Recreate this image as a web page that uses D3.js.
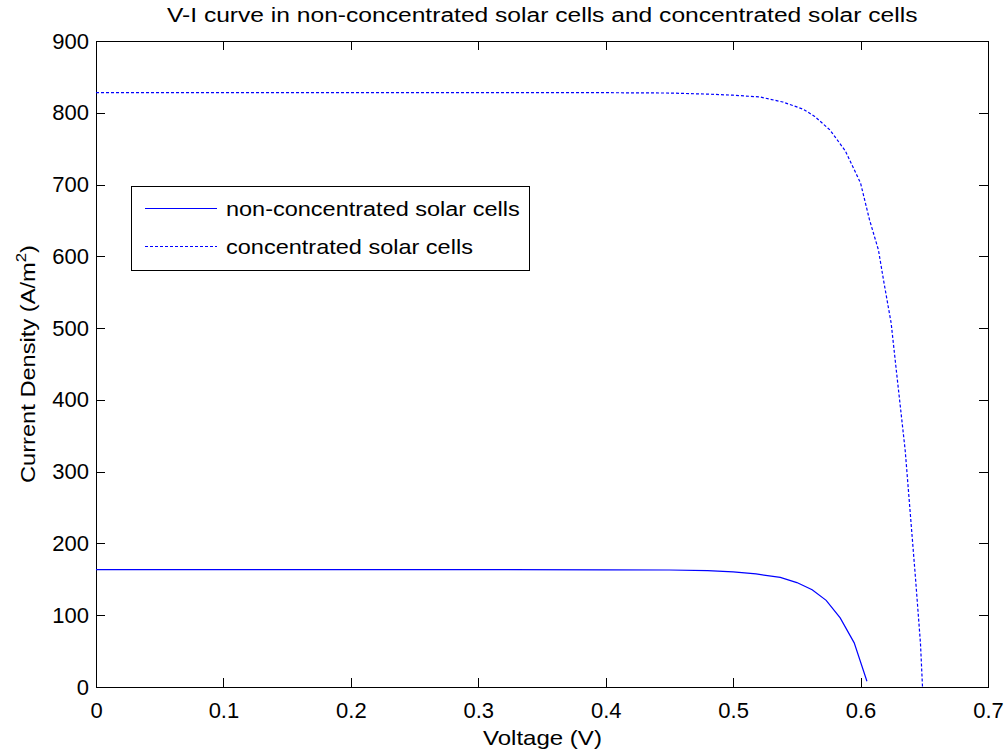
<!DOCTYPE html>
<html>
<head>
<meta charset="utf-8">
<script src="https://cdn.jsdelivr.net/npm/d3@7"></script>
<style>
  body { margin: 0; background: #fff; }
  text { font-family: "Liberation Sans", Arial, sans-serif; fill: #000; }
</style>
</head>
<body>
<svg id="chart" width="1008" height="756"></svg>
<script>
const width = 1008;
const height = 756;
const margin = { top: 41, right: 20, bottom: 69, left: 96 };

// non-concentrated solar cells
const voltageNC = [0, 0.1, 0.2, 0.3, 0.4, 0.45, 0.48, 0.5, 0.518, 0.537, 0.55, 0.562, 0.573, 0.584, 0.595, 0.605];
const currentNC = [163.5, 163.5, 163.5, 163.5, 163.3, 163, 162, 160.5, 157.5, 152.7, 145.5, 135.6, 120.7, 96.3, 61.5, 8];

// concentrated solar cells
const voltageC = [0, 0.1, 0.2, 0.3, 0.4, 0.45, 0.48, 0.5, 0.521, 0.539, 0.555, 0.564, 0.576, 0.588, 0.6, 0.607, 0.614, 0.618, 0.624, 0.628, 0.635, 0.639, 0.643, 0.647, 0.6486];
const currentC = [828, 828, 828, 828, 828, 827.5, 826, 824.5, 822, 815, 805, 795, 776, 747, 702, 651, 609, 567, 507, 442, 330, 242, 154, 61, 0];

const xTicks = [0, 0.1, 0.2, 0.3, 0.4, 0.5, 0.6, 0.7];
const yTicks = [0, 100, 200, 300, 400, 500, 600, 700, 800, 900];
const seriesNames = ["non-concentrated solar cells", "concentrated solar cells"];

const svg = d3.select("#chart");

const x = d3.scaleLinear()
    .domain([0, 0.7])
    .range([margin.left, width - margin.right]);
const y = d3.scaleLinear()
    .domain([0, 900])
    .range([height - margin.bottom, margin.top]);

const x0 = margin.left, x1 = width - margin.right;
const y0 = height - margin.bottom, y1 = margin.top;

// the reference font is a bit wider than Liberation Sans, stretch text horizontally
function stretch(sel, target, base) {
    const w = sel.node().getBBox().width;
    const k = target / w;
    sel.attr("transform", `${base || ""} scale(${k},1)`);
}

// axes with inward ticks
svg.append("g")
    .attr("transform", `translate(0,${y0})`)
    .call(d3.axisBottom(x).tickValues(xTicks).tickSizeInner(-9).tickSizeOuter(0).tickPadding(15).tickFormat(d3.format("")))
    .call((g) => g.select(".domain").remove())
    .call((g) => g.selectAll("text").attr("font-size", 22).attr("font-family", "Liberation Sans, Arial"));

svg.append("g")
    .attr("transform", `translate(0,${y1})`)
    .call(d3.axisTop(x).tickValues(xTicks).tickSizeInner(-9).tickSizeOuter(0).tickFormat(""))
    .call((g) => g.select(".domain").remove());

svg.append("g")
    .attr("transform", `translate(${x0},0)`)
    .call(d3.axisLeft(y).tickValues(yTicks).tickSizeInner(-9).tickSizeOuter(0).tickPadding(7))
    .call((g) => g.select(".domain").remove())
    .call((g) => g.selectAll("text").attr("font-size", 22).attr("font-family", "Liberation Sans, Arial"));

svg.append("g")
    .attr("transform", `translate(${x1},0)`)
    .call(d3.axisRight(y).tickValues(yTicks).tickSizeInner(-9).tickSizeOuter(0).tickFormat(""))
    .call((g) => g.select(".domain").remove());

svg.selectAll(".tick line").attr("stroke", "#000").attr("shape-rendering", "crispEdges");

svg.append("rect")
    .attr("x", x0 + 0.5)
    .attr("y", y1 + 0.5)
    .attr("width", x1 - x0)
    .attr("height", y0 - y1)
    .attr("fill", "none")
    .attr("stroke", "#000")
    .attr("stroke-width", 1);

// curves
const line = d3.line()
    .x((d) => x(d[0]))
    .y((d) => y(d[1]));

svg.append("path")
    .datum(d3.zip(voltageNC, currentNC))
    .attr("fill", "none")
    .attr("stroke", "#0000ff")
    .attr("stroke-width", 1.2)
    .attr("d", line);

svg.append("path")
    .datum(d3.zip(voltageC, currentC))
    .attr("fill", "none")
    .attr("stroke", "#0000ff")
    .attr("stroke-width", 1.2)
    .attr("stroke-dasharray", "3,2")
    .attr("d", line);

// title and labels
const title = svg.append("text")
    .attr("x", 0)
    .attr("y", 0)
    .attr("font-size", 21)
    .text("V-I curve in non-concentrated solar cells and concentrated solar cells");
stretch(title, 751, "translate(167,22)");

const xLabel = svg.append("text")
    .attr("font-size", 21)
    .text("Voltage (V)");
stretch(xLabel, 119, "translate(483,745)");

const yLabel = svg.append("text")
    .attr("font-size", 21);
yLabel.append("tspan").text("Current Density (A/m");
yLabel.append("tspan").attr("font-size", 15).attr("dy", -9).text("2");
yLabel.append("tspan").attr("dy", 9).text(")");
stretch(yLabel, 238, "translate(35,483) rotate(-90)");

// legend
const legend = svg.append("g");
legend.append("rect")
    .attr("x", 131.5)
    .attr("y", 186.5)
    .attr("width", 398)
    .attr("height", 84)
    .attr("fill", "#fff")
    .attr("stroke", "#000");

const legendWidths = [294, 247];
seriesNames.forEach((name, i) => {
    const ly = 208.5 + i * 38;
    legend.append("line")
        .attr("x1", 145)
        .attr("x2", 217)
        .attr("y1", ly)
        .attr("y2", ly)
        .attr("stroke", "#0000ff")
        .attr("stroke-width", 1)
        .attr("stroke-dasharray", i === 1 ? "3,2" : null);
    const t = legend.append("text")
        .attr("font-size", 21)
        .text(name);
    stretch(t, legendWidths[i], `translate(226,${ly + 7.5})`);
});
</script>
</body>
</html>
